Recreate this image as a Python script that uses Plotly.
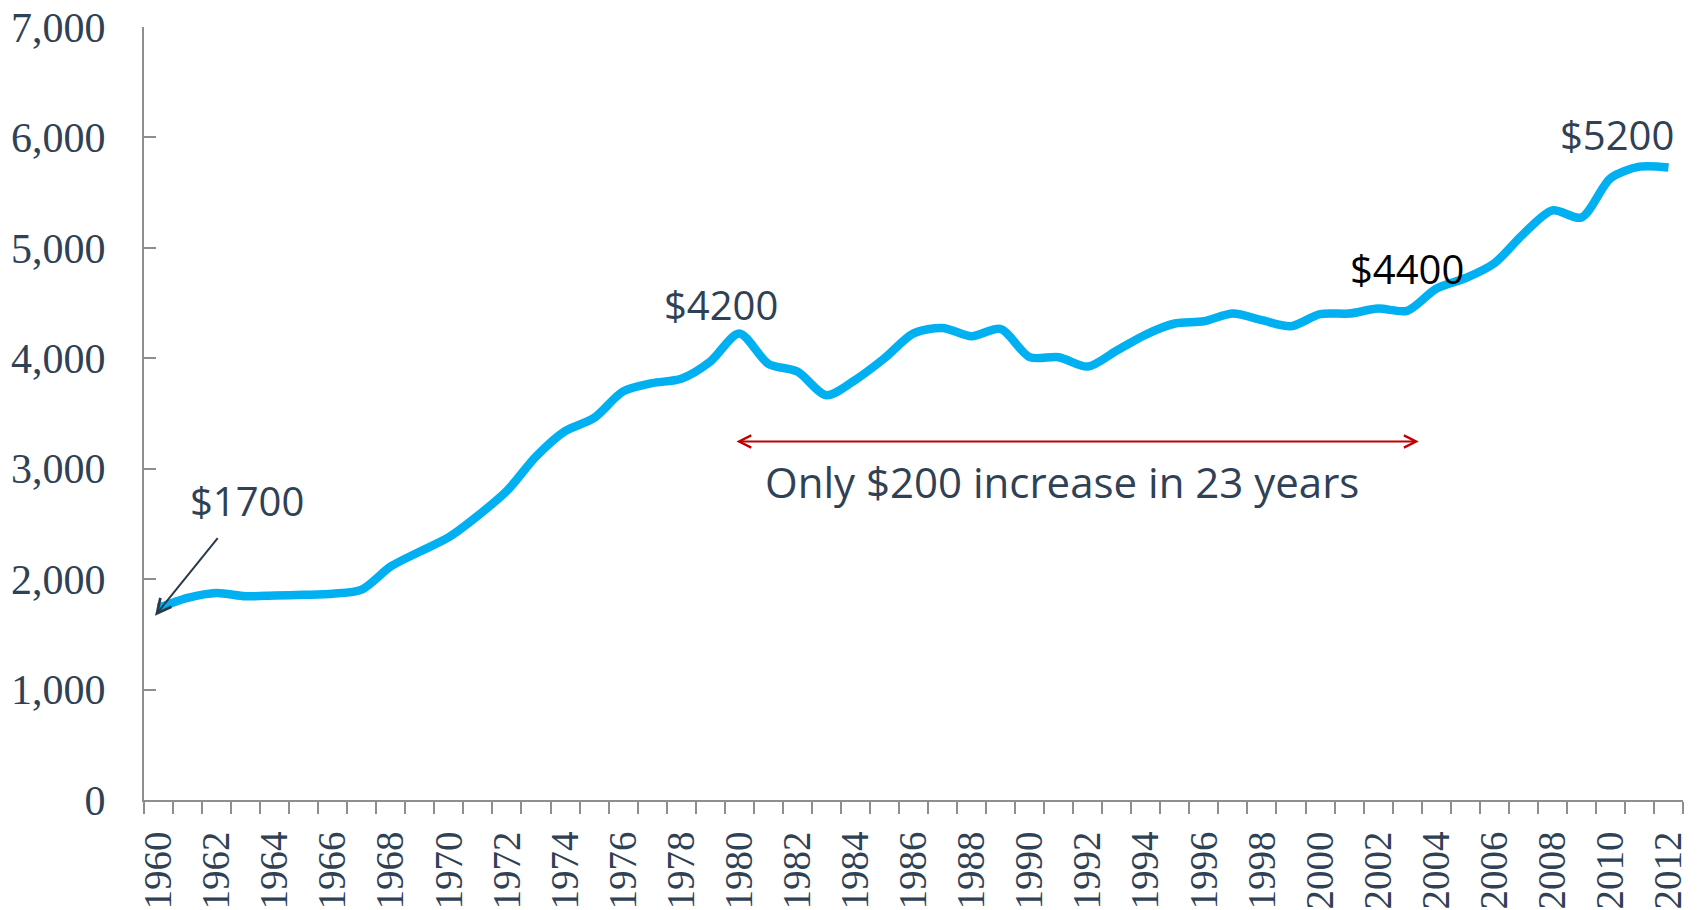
import plotly.graph_objects as go

# ---- data ----
years = list(range(1960, 2013))
values = [1740, 1830, 1875, 1845, 1852, 1858, 1868, 1905, 2115, 2250,
          2380, 2575, 2800, 3110, 3340, 3460, 3700, 3775, 3815, 3970,
          4225, 3950, 3880, 3665, 3805, 4000, 4225, 4275, 4200, 4265,
          4010, 4010, 3925, 4070, 4215, 4315, 4335, 4405, 4345, 4290,
          4400, 4405, 4450, 4430, 4630, 4725, 4860, 5125, 5340, 5275,
          5630, 5735, 5728]
tick_years = list(range(1960, 2013, 2))
tick_labels = [str(y) for y in tick_years]
y_ticks = list(range(0, 7001, 1000))

# annotation texts and anchors (data coords)
value_labels = ["$1700", "$4200", "$4400", "$5200"]
value_label_x = [1963.05, 1979.37, 2002.99, 2010.22]
value_label_y = [2711, 4488, 4814, 6029]
value_label_colors = ["#2F4155", "#2F4155", "#000000", "#2F4155"]
span_text = "Only $200 increase in 23 years"
span_text_pos = (1991.11, 2883)
span_arrow = (1979.85, 2003.4, 3246)
start_arrow = dict(head=(1959.88, 1668), tail=(1962.08, 2384))

TEXT = "#2F4155"
AXIS = "#8E8E8E"

fig = go.Figure()
fig.add_trace(go.Scatter(
    x=years, y=values, mode="lines",
    line=dict(color="#00B0F0", width=8.5, shape="spline", smoothing=0.8),
    hoverinfo="x+y", showlegend=False,
))

ann = []
for t, x, y, c in zip(value_labels, value_label_x, value_label_y, value_label_colors):
    ann.append(dict(text=t, x=x, y=y, xref="x", yref="y", showarrow=False,
                    font=dict(family="Open Sans", size=40, color=c)))
ann.append(dict(text=span_text, x=span_text_pos[0], y=span_text_pos[1], xref="x", yref="y",
                showarrow=False, font=dict(family="Open Sans", size=42, color=TEXT)))
ann.append(dict(text="", x=span_arrow[1], y=span_arrow[2], ax=span_arrow[0], ay=span_arrow[2],
                xref="x", yref="y", axref="x", ayref="y", showarrow=True,
                arrowside="end+start", arrowhead=5, startarrowhead=5,
                arrowsize=1.2, startarrowsize=1.2, arrowwidth=2, arrowcolor="#C00000",
                standoff=0, startstandoff=0))
ann.append(dict(text="", x=start_arrow["head"][0], y=start_arrow["head"][1],
                ax=start_arrow["tail"][0], ay=start_arrow["tail"][1],
                xref="x", yref="y", axref="x", ayref="y", showarrow=True,
                arrowhead=5, arrowsize=1.4, arrowwidth=2, arrowcolor="#2B3A4A", standoff=0))

fig.update_layout(
    width=1702, height=910,
    margin=dict(l=144, r=19, t=27, b=110),
    paper_bgcolor="white", plot_bgcolor="white",
    annotations=ann,
    xaxis=dict(
        range=[1959.5, 2012.5], tickmode="array", tickvals=tick_years, ticktext=tick_labels,
        tickangle=-90, ticks="", showline=True, linecolor=AXIS, linewidth=2,
        showgrid=False, zeroline=False, ticklabelstandoff=14, automargin=False,
        tickfont=dict(family="Liberation Serif", size=39, color=TEXT),
        minor=dict(tick0=1959.5, dtick=1, ticks="outside", ticklen=12, tickcolor=AXIS,
                   tickwidth=2, showgrid=False),
    ),
    yaxis=dict(
        range=[0, 7000], tickmode="array", tickvals=y_ticks, tickformat=",",
        ticks="inside", ticklen=12, tickcolor=AXIS, tickwidth=2,
        showline=True, linecolor=AXIS, linewidth=2, showgrid=False, zeroline=False,
        ticklabelstandoff=28, automargin=False,
        tickfont=dict(family="Liberation Serif", size=42, color=TEXT),
    ),
)

fig.write_html("out.html", config={"displayModeBar": False},
               post_script="document.body.style.margin='0';document.body.style.overflow='hidden';")
